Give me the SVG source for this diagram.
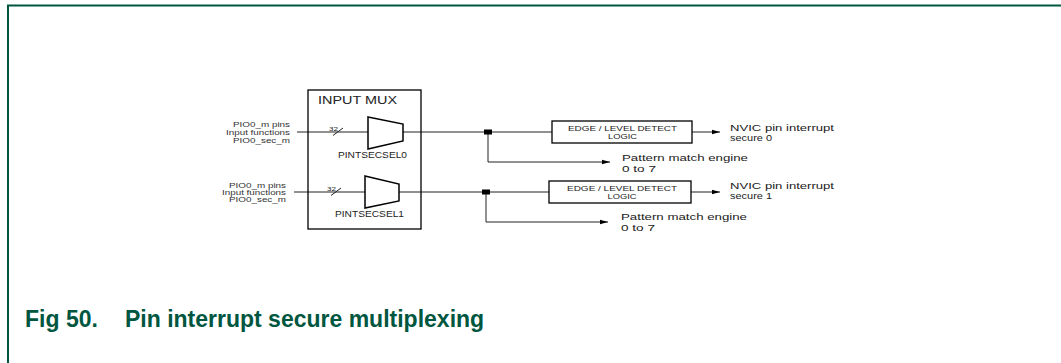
<svg xmlns="http://www.w3.org/2000/svg" width="1061" height="363" viewBox="0 0 1061 363">
<style>
.frame{stroke:#00563f;stroke-width:2;fill:none}
.cap{font-family:"Liberation Sans",Arial,sans-serif;font-weight:bold;fill:#00563f;font-size:23px}
.t{font-family:"Liberation Sans",Arial,sans-serif;fill:#222}
.lbl{font-family:"Liberation Sans",Arial,sans-serif;fill:#333;font-size:7px}
.box{fill:#fff;stroke:#000;stroke-width:1.3}
.mux{fill:#fff;stroke:#000;stroke-width:1.5}
.ln{fill:none;stroke:#222;stroke-width:1}
.arr{fill:none;stroke:#222;stroke-width:1;marker-end:url(#ah)}
.jn{fill:#000}
</style>
<defs>
<marker id="ah" markerUnits="userSpaceOnUse" markerWidth="9" markerHeight="6" refX="8.5" refY="3" orient="auto">
<path d="M0,0.5 L8.5,3 L0,5.5 Z" fill="#000"/>
</marker>
</defs>
<rect width="1061" height="363" fill="#fff"/>
<path class="frame" d="M7,5.5 H1061 M8,5 V363"/>

<g id="connectors">
<line class="ln" x1="297" y1="132" x2="368" y2="132"/>
<line class="ln" x1="333" y1="135.5" x2="343" y2="128"/>
<line class="ln" x1="403" y1="132" x2="552" y2="132"/>
<polyline class="arr" points="488,132 488,162 610,162"/>
<line class="arr" x1="692" y1="132" x2="720" y2="132"/>
<line class="ln" x1="294" y1="192" x2="365" y2="192"/>
<line class="ln" x1="331" y1="195.5" x2="341" y2="188"/>
<line class="ln" x1="399" y1="192" x2="549" y2="192"/>
<polyline class="arr" points="486,192 486,222 608,222"/>
<line class="arr" x1="691" y1="192" x2="720" y2="192"/>
<rect class="jn" x="484" y="129.5" width="8" height="5"/>
<rect class="jn" x="482" y="189.5" width="8" height="5"/>
</g>

<g id="inputs0">
<text class="lbl" x="233" y="126.5" textLength="57" lengthAdjust="spacingAndGlyphs">PIO0_m pins</text>
<text class="lbl" x="226" y="134.5" textLength="64" lengthAdjust="spacingAndGlyphs">Input functions</text>
<text class="lbl" x="233" y="142.5" textLength="57" lengthAdjust="spacingAndGlyphs">PIO0_sec_m</text>
<text class="t" x="329" y="130.5" font-size="5.5" textLength="9" lengthAdjust="spacingAndGlyphs">32</text>
</g>
<g id="inputs1">
<text class="lbl" x="229" y="187.5" textLength="57" lengthAdjust="spacingAndGlyphs">PIO0_m pins</text>
<text class="lbl" x="222" y="195" textLength="64" lengthAdjust="spacingAndGlyphs">Input functions</text>
<text class="lbl" x="229" y="202" textLength="57" lengthAdjust="spacingAndGlyphs">PIO0_sec_m</text>
<text class="t" x="327" y="190.5" font-size="5.5" textLength="9" lengthAdjust="spacingAndGlyphs">32</text>
</g>

<g id="inputmux">
<rect class="box" x="308" y="90" width="113" height="139" style="fill:none"/>
<text class="t" x="318" y="104" font-size="10.5" textLength="79" lengthAdjust="spacingAndGlyphs">INPUT MUX</text>
</g>
<g id="mux0">
<polygon class="mux" points="368,117 403,124 403,141 368,149"/>
<text class="t" x="338" y="158" font-size="8.5" textLength="69" lengthAdjust="spacingAndGlyphs">PINTSECSEL0</text>
</g>
<g id="mux1">
<polygon class="mux" points="365,176 399,184 399,201 365,208"/>
<text class="t" x="335" y="217" font-size="8.5" textLength="69" lengthAdjust="spacingAndGlyphs">PINTSECSEL1</text>
</g>

<g id="edge0">
<rect class="box" x="552" y="121" width="140" height="22"/>
<text class="t" x="622.5" y="130.5" font-size="6.5" text-anchor="middle" textLength="109" lengthAdjust="spacingAndGlyphs">EDGE / LEVEL DETECT</text>
<text class="t" x="622.5" y="138.5" font-size="6.5" text-anchor="middle" textLength="29" lengthAdjust="spacingAndGlyphs">LOGIC</text>
</g>
<g id="edge1">
<rect class="box" x="549" y="181" width="142" height="22"/>
<text class="t" x="622" y="190.5" font-size="6.5" text-anchor="middle" textLength="110" lengthAdjust="spacingAndGlyphs">EDGE / LEVEL DETECT</text>
<text class="t" x="622" y="198.5" font-size="6.5" text-anchor="middle" textLength="29" lengthAdjust="spacingAndGlyphs">LOGIC</text>
</g>

<g id="nvic0">
<text class="t" x="730" y="130.5" font-size="9.5" textLength="104" lengthAdjust="spacingAndGlyphs">NVIC pin interrupt</text>
<text class="t" x="730" y="140.5" font-size="9.5" textLength="42" lengthAdjust="spacingAndGlyphs">secure 0</text>
</g>
<g id="nvic1">
<text class="t" x="730" y="188.5" font-size="9.5" textLength="104" lengthAdjust="spacingAndGlyphs">NVIC pin interrupt</text>
<text class="t" x="730" y="198.5" font-size="9.5" textLength="42" lengthAdjust="spacingAndGlyphs">secure 1</text>
</g>
<g id="pattern0">
<text class="t" x="622" y="160.5" font-size="9.5" textLength="126" lengthAdjust="spacingAndGlyphs">Pattern match engine</text>
<text class="t" x="622" y="171.5" font-size="9.5" textLength="34" lengthAdjust="spacingAndGlyphs">0 to 7</text>
</g>
<g id="pattern1">
<text class="t" x="621" y="219.5" font-size="9.5" textLength="126" lengthAdjust="spacingAndGlyphs">Pattern match engine</text>
<text class="t" x="621" y="230.5" font-size="9.5" textLength="34" lengthAdjust="spacingAndGlyphs">0 to 7</text>
</g>

<g id="caption">
<text class="cap" x="25" y="327">Fig 50.</text>
<text class="cap" x="125" y="327">Pin interrupt secure multiplexing</text>
</g>
</svg>
